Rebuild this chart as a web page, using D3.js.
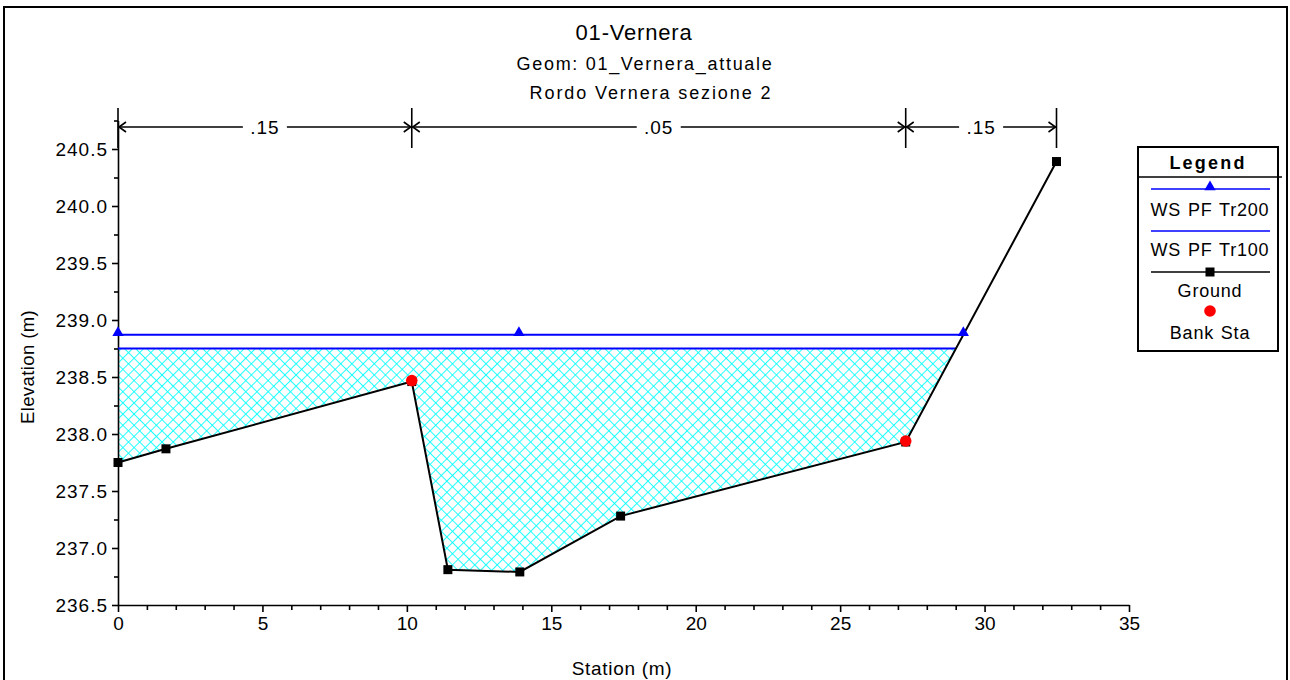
<!DOCTYPE html>
<html>
<head>
<meta charset="utf-8">
<script src="https://cdn.jsdelivr.net/npm/d3@7"></script>
<style>
  body { margin: 0; background: #fff; }
  svg text { font-family: "Liberation Sans", Arial, sans-serif; fill: #000; }
</style>
</head>
<body>
<svg id="chart" width="1290" height="680"></svg>
<script>
// cross section data
const stations = [0, 1.66, 10.17, 11.42, 13.91, 17.4, 27.27, 32.49];
const elevations = [237.75, 237.87, 238.46, 236.81, 236.79, 237.28, 237.93, 240.39];
const bankStations = [10.17, 27.27];
const wsTr200 = 238.87;
const wsTr100 = 238.75;
const tr200Markers = [0, 13.88];
const nBreaks = [0, 10.17, 27.27, 32.49];
const nValues = ['.15', '.05', '.15'];
const xTicks = [0, 5, 10, 15, 20, 25, 30, 35];
const yTicks = [236.5, 237.0, 237.5, 238.0, 238.5, 239.0, 239.5, 240.0, 240.5];
const legendItems = ['WS PF Tr200', 'WS PF Tr100', 'Ground', 'Bank Sta'];

const svg = d3.select('#chart');
const ground = stations.map((s, i) => ({ s, z: elevations[i] }));

const x = d3.scaleLinear().domain([0, 35]).range([118, 1129]);
const y = d3.scaleLinear().domain([236.5, 240.75]).range([605, 120.5]);

// where a water surface meets the right bank
function rightEdge(ws) {
  for (let i = ground.length - 1; i > 0; i--) {
    const a = ground[i - 1], b = ground[i];
    if (a.z <= ws && b.z >= ws) return a.s + (ws - a.z) / (b.z - a.z) * (b.s - a.s);
  }
  return ground[ground.length - 1].s;
}

// outer frame
svg.append('rect').attr('x', 4).attr('y', 7).attr('width', 1283).attr('height', 700)
  .attr('fill', 'none').attr('stroke', '#000').attr('stroke-width', 2);

// titles
svg.append('text').attr('x', 634).attr('y', 40).attr('text-anchor', 'middle')
  .style('font-size', '22px').attr('letter-spacing', '0.8px').text('01-Vernera');
svg.append('text').attr('x', 645).attr('y', 70).attr('text-anchor', 'middle')
  .style('font-size', '18px').attr('letter-spacing', '1.7px').text('Geom: 01_Vernera_attuale');
svg.append('text').attr('x', 651).attr('y', 99).attr('text-anchor', 'middle')
  .style('font-size', '18px').attr('letter-spacing', '1.9px').text('Rordo Vernera sezione 2');

// crosshatch pattern
const defs = svg.append('defs');
const pat = defs.append('pattern').attr('id', 'hatch').attr('patternUnits', 'userSpaceOnUse')
  .attr('width', 7.9).attr('height', 7.9).attr('patternTransform', 'rotate(45)');
pat.append('line').attr('x1', 0).attr('y1', 0).attr('x2', 0).attr('y2', 7.9)
  .attr('stroke', '#00ffff').attr('stroke-width', 1.7);
pat.append('line').attr('x1', 0).attr('y1', 0).attr('x2', 7.9).attr('y2', 0)
  .attr('stroke', '#00ffff').attr('stroke-width', 1.7);

// water area for Tr100
const edge100 = rightEdge(wsTr100);
const poly = [{ s: 0, z: wsTr100 }];
ground.forEach(p => { if (p.s <= edge100) poly.push(p); });
poly.push({ s: edge100, z: wsTr100 });
svg.append('path')
  .attr('d', d3.line().x(d => x(d.s)).y(d => y(d.z))(poly) + 'Z')
  .attr('fill', 'url(#hatch)').attr('stroke', 'none');

// axes
const xAxis = svg.append('g').attr('transform', 'translate(0,605)')
  .call(d3.axisBottom(x).tickValues(xTicks).tickSize(7).tickSizeOuter(0).tickPadding(5).tickFormat(d3.format('d')));
svg.append('g').attr('transform', 'translate(0,605)')
  .call(d3.axisBottom(x).tickValues(d3.range(0, 36).filter(v => v % 5 !== 0)).tickSize(5).tickSizeOuter(0).tickFormat(''))
  .select('.domain').remove();
const yAxis = svg.append('g').attr('transform', 'translate(118,0)')
  .call(d3.axisLeft(y).tickValues(yTicks).tickSize(6).tickSizeOuter(0).tickPadding(4).tickFormat(d3.format('.1f')));
svg.append('g').attr('transform', 'translate(118,0)')
  .call(d3.axisLeft(y).tickValues(yTicks.map(v => v + 0.25)).tickSize(4).tickSizeOuter(0).tickFormat(''))
  .select('.domain').remove();
svg.selectAll('.domain, .tick line').attr('stroke', '#000').attr('stroke-width', 1.6);
[xAxis, yAxis].forEach(a => a.selectAll('text').style('font-size', '19px')
  .style('font-family', '"Liberation Sans", Arial, sans-serif'));
yAxis.selectAll('text').attr('letter-spacing', '1px');

svg.append('text').attr('x', 622).attr('y', 675).attr('text-anchor', 'middle')
  .style('font-size', '19px').attr('letter-spacing', '0.7px').text('Station (m)');
svg.append('text').attr('transform', 'translate(34,367) rotate(-90)').attr('text-anchor', 'middle')
  .style('font-size', '18.5px').attr('letter-spacing', '0.4px').text('Elevation (m)');

// manning's n dimension lines
const dimY = 127;
const dim = svg.append('g').attr('stroke', '#000').attr('fill', 'none').attr('stroke-width', 1.6);
nBreaks.forEach(s => {
  dim.append('line').attr('x1', x(s)).attr('x2', x(s)).attr('y1', 108).attr('y2', 148);
});
nValues.forEach((v, i) => {
  const x0 = x(nBreaks[i]), x1 = x(nBreaks[i + 1]), xm = (x0 + x1) / 2;
  const gap = 22;
  dim.append('line').attr('x1', x0).attr('x2', xm - gap).attr('y1', dimY).attr('y2', dimY);
  dim.append('line').attr('x1', xm + gap).attr('x2', x1).attr('y1', dimY).attr('y2', dimY);
  dim.append('path').attr('d', `M${x0 + 8},${dimY - 5}L${x0 + 1},${dimY}L${x0 + 8},${dimY + 5}`);
  dim.append('path').attr('d', `M${x1 - 8},${dimY - 5}L${x1 - 1},${dimY}L${x1 - 8},${dimY + 5}`);
  svg.append('text').attr('x', xm).attr('y', dimY + 7).attr('text-anchor', 'middle')
    .style('font-size', '19px').attr('letter-spacing', '1px').text(v);
});

// water surfaces
const edge200 = rightEdge(wsTr200);
svg.append('line').attr('x1', x(0)).attr('x2', x(edge200)).attr('y1', y(wsTr200)).attr('y2', y(wsTr200))
  .attr('stroke', '#0000ff').attr('stroke-width', 2);
svg.append('line').attr('x1', x(0)).attr('x2', x(edge100)).attr('y1', y(wsTr100)).attr('y2', y(wsTr100))
  .attr('stroke', '#0000ff').attr('stroke-width', 2);

// ground
svg.append('path').attr('d', d3.line().x(d => x(d.s)).y(d => y(d.z))(ground))
  .attr('fill', 'none').attr('stroke', '#000').attr('stroke-width', 2);
svg.selectAll('.gpt').data(ground).enter().append('rect').attr('class', 'gpt')
  .attr('x', d => x(d.s) - 4.5).attr('y', d => y(d.z) - 4.5).attr('width', 9).attr('height', 9)
  .attr('fill', '#000');

// bank stations
svg.selectAll('.bank').data(bankStations).enter().append('circle').attr('class', 'bank')
  .attr('cx', d => x(d)).attr('cy', d => y(elevations[stations.indexOf(d)]) - 1).attr('r', 5.8)
  .attr('fill', '#ff0000');

// Tr200 markers
const tri = d3.symbol().type(d3.symbolTriangle).size(55);
svg.selectAll('.tri').data(tr200Markers.concat([edge200])).enter().append('path').attr('class', 'tri')
  .attr('d', tri).attr('transform', d => `translate(${x(d)},${y(wsTr200) - 2})`).attr('fill', '#0000ff');

// legend
const lg = svg.append('g');
lg.append('rect').attr('x', 1138).attr('y', 147).attr('width', 140).attr('height', 204)
  .attr('fill', '#fff').attr('stroke', '#000').attr('stroke-width', 2);
lg.append('line').attr('x1', 1138).attr('x2', 1282).attr('y1', 177).attr('y2', 177)
  .attr('stroke', '#000').attr('stroke-width', 1.6);
lg.append('text').attr('x', 1208).attr('y', 169).attr('text-anchor', 'middle')
  .style('font-size', '18px').style('font-weight', 'bold').attr('letter-spacing', '2.2px').text('Legend');
const lx0 = 1151, lx1 = 1270, lxm = 1210;
lg.append('line').attr('x1', lx0).attr('x2', lx1).attr('y1', 189).attr('y2', 189).attr('stroke', '#0000ff').attr('stroke-width', 1.6);
lg.append('path').attr('d', tri).attr('transform', `translate(${lxm},187)`).attr('fill', '#0000ff');
lg.append('line').attr('x1', lx0).attr('x2', lx1).attr('y1', 231).attr('y2', 231).attr('stroke', '#0000ff').attr('stroke-width', 1.6);
lg.append('line').attr('x1', lx0).attr('x2', lx1).attr('y1', 272).attr('y2', 272).attr('stroke', '#000').attr('stroke-width', 1.6);
lg.append('rect').attr('x', lxm - 4.5).attr('y', 267.5).attr('width', 9).attr('height', 9).attr('fill', '#000');
lg.append('circle').attr('cx', lxm).attr('cy', 311).attr('r', 5.8).attr('fill', '#ff0000');
const labelY = [216, 256, 297, 339];
legendItems.forEach((t, i) => {
  lg.append('text').attr('x', lxm).attr('y', labelY[i]).attr('text-anchor', 'middle')
    .style('font-size', '18px').attr('letter-spacing', '0.8px').attr('word-spacing', '1px').text(t);
});
</script>
</body>
</html>
